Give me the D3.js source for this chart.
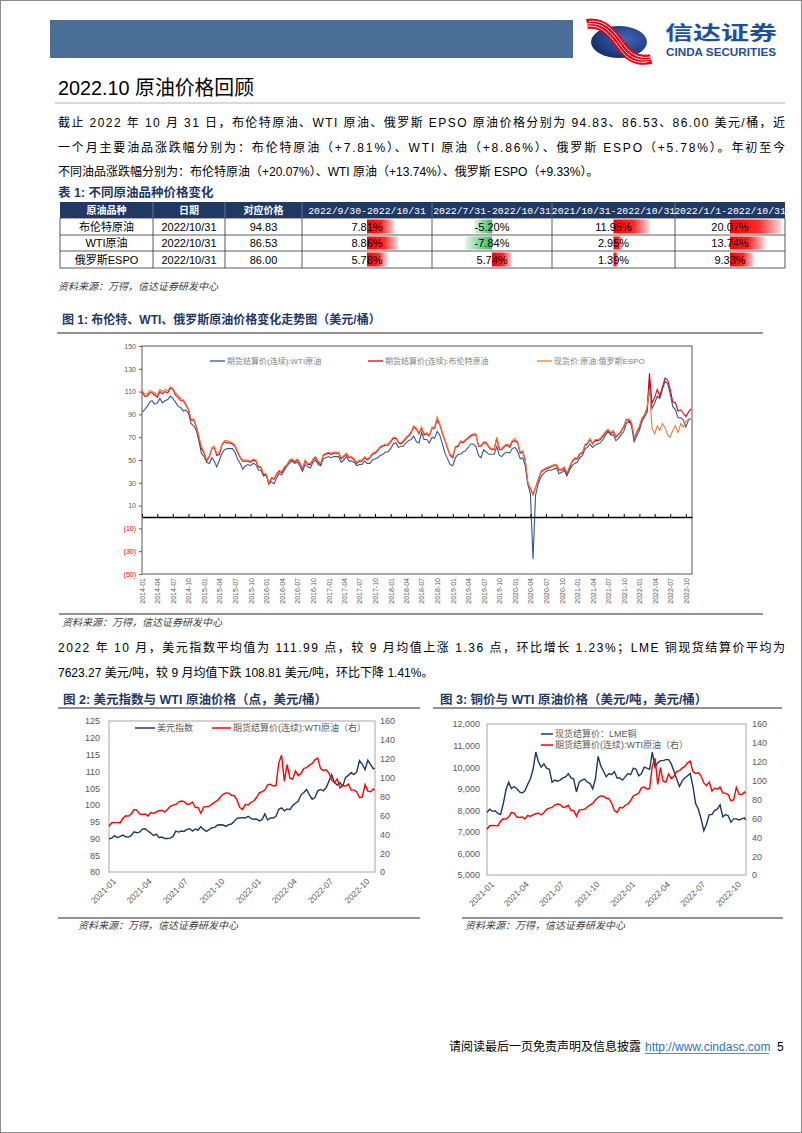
<!DOCTYPE html>
<html><head><meta charset="utf-8">
<script src="https://d3js.org/d3.v7.min.js"></script>
<style>
html,body{margin:0;padding:0;background:#fff;}
svg{display:block;}
</style></head>
<body>
<svg id="page" width="802" height="1133" xmlns="http://www.w3.org/2000/svg"></svg>
<script>
// ================= DATA =================
const tableHeaders = ["原油品种","日期","对应价格","2022/9/30-2022/10/31","2022/7/31-2022/10/31","2021/10/31-2022/10/31","2022/1/1-2022/10/31"];
const oilNames = ["布伦特原油","WTI原油","俄罗斯ESPO"];
const oilDates = ["2022/10/31","2022/10/31","2022/10/31"];
const oilPrices = ["94.83","86.53","86.00"];
const chg1m = [7.81, 8.86, 5.78];
const chg3m = [-5.20, -7.84, 5.74];
const chg1y = [11.95, 2.95, 1.39];
const chgYtd = [20.07, 13.74, 9.33];

// Chart 1: semi-monthly (1st & 16th) 2014-01 .. 2022-10, last point 2022-10-31
const wti1 = [
92,94,97,101,102,99,100,104,100,102,103,106,104,101,97,96,93,94,91,82,80,76,67,56,
53,48,47,52,49,44,50,56,59,60,60,60,57,51,47,42,45,46,45,47,46,41,41,36,
37,29,31,29,34,38,37,41,45,47,49,47,48,45,40,46,44,43,48,50,46,45,51,52,
53,52,53,53,53,48,50,53,49,49,48,45,46,46,49,47,47,50,51,52,54,55,57,57,
60,64,65,61,62,62,65,67,68,71,66,65,74,68,68,65,70,69,75,72,64,56,51,46,
45,52,55,55,57,58,61,64,64,62,54,52,59,57,55,55,55,62,54,53,56,57,56,60,
61,58,51,52,45,29,20,-37,19,29,35,38,40,41,41,42,43,38,39,41,36,41,45,47,
48,52,54,60,61,64,61,63,64,65,68,72,75,72,72,67,69,72,75,82,84,80,66,71,
76,84,88,92,120,95,100,106,104,112,119,117,108,97,94,87,87,85,79,85,
86.5];
const brent1 = [
110,106,106,109,109,107,105,110,108,110,109,113,112,107,105,102,102,98,94,85,85,79,70,60,
56,49,53,60,61,54,55,63,66,65,65,64,62,57,52,49,49,49,48,50,49,44,43,37,
37,29,34,33,37,40,39,43,45,49,50,48,50,47,42,49,46,46,50,52,48,46,54,55,
56,55,56,56,56,51,53,55,52,52,50,47,49,49,52,50,52,55,56,58,61,62,63,63,
66,69,69,65,64,66,69,71,74,79,77,73,78,72,73,71,78,78,85,81,73,67,60,54,
52,61,62,66,65,67,69,71,72,72,62,62,65,65,61,59,59,69,59,59,62,63,61,66,
67,65,56,57,50,30,25,20,26,32,39,41,42,43,44,45,45,41,41,43,38,43,48,51,
51,55,56,63,64,68,64,67,67,68,71,74,76,73,75,70,72,75,79,85,85,82,69,74,
79,86,89,96,126,100,105,112,106,114,122,120,112,101,100,93,94,91,88,92,
94.8];
const espo1 = [
111,108,108,111,110,109,107,112,110,112,111,114,113,109,107,104,103,99,95,86,86,80,71,62,
57,50,54,61,62,56,57,64,67,67,66,65,63,58,53,50,50,50,49,51,50,45,44,38,
38,30,35,34,38,41,40,44,46,50,51,49,51,48,43,50,47,47,51,53,49,47,55,56,
57,56,57,57,57,52,54,56,53,53,51,48,50,50,53,51,53,56,57,59,62,63,64,64,
67,70,70,66,65,67,70,72,75,80,78,74,79,73,74,72,79,79,88,82,74,68,61,55,
54,62,63,67,66,68,70,72,73,73,63,63,66,66,62,60,60,70,61,60,63,64,63,67,
69,66,57,58,51,31,24,19,26,33,40,42,43,44,45,46,46,42,42,44,39,44,49,52,
52,56,57,64,65,69,65,68,68,69,72,75,77,74,76,71,73,76,80,86,86,83,70,75,
80,87,90,97,112,78,73,80,76,82,78,72,70,76,80,74,82,79,84,86,
86];
const c1YTicks = [150,130,110,90,70,50,30,10,-10,-30,-50];
const c1Legend = ["期货结算价(连续):WTI原油","期货结算价(连续):布伦特原油","现货价:原油:俄罗斯ESPO"];

// Charts 2 & 3: weekly (Fridays from 2021-01-01), last point 2022-10-31
const dxy = [
89.9,90.1,90.8,90.2,90.6,91.0,90.5,90.4,90.9,92.0,91.7,91.9,92.8,92.9,92.2,91.6,90.9,91.3,90.2,90.4,90.0,90.0,90.1,90.6,92.2,91.9,92.2,92.1,92.7,92.9,92.2,92.8,92.5,93.5,92.7,92.1,92.6,93.2,93.3,94.0,94.1,94.0,93.6,94.1,94.3,95.1,96.0,96.1,96.2,96.1,96.6,96.0,95.7,
95.8,95.2,95.6,97.3,95.5,96.1,96.1,96.6,98.7,99.1,98.2,98.8,98.6,99.8,100.5,101.1,103.0,103.7,104.6,103.0,101.7,102.2,104.2,104.6,104.2,105.1,107.0,109.0,106.7,105.9,106.6,105.6,108.2,108.8,109.6,109.0,109.8,113.2,112.1,110.5,113.3,112.0,110.7,
111.0];
const wtiW = [
48.5,52.2,52.4,52.3,52.2,56.9,59.5,59.2,61.5,66.1,65.6,61.4,61.0,61.5,59.3,63.1,62.1,63.6,64.9,65.4,63.6,66.3,69.6,70.9,71.6,74.1,75.2,74.6,71.8,72.1,74.0,68.3,68.4,62.3,68.7,69.3,69.7,72.0,74.0,75.9,79.4,82.3,83.8,83.6,81.3,80.8,76.1,68.2,66.3,71.7,70.9,73.8,75.2,
78.9,83.8,85.1,86.8,92.3,93.1,91.1,91.6,115.7,123.7,96.0,113.9,99.3,98.3,107.0,102.1,104.7,109.8,110.5,113.2,115.1,118.9,120.7,109.6,107.6,108.4,104.8,97.6,94.7,98.6,89.0,92.1,90.8,93.1,86.9,86.8,85.1,78.7,79.5,92.6,85.6,85.1,87.9,
86.5];
const copper = [
7900,8050,7950,7980,7850,7800,8300,8950,9300,9000,9100,9000,8850,8800,8900,9200,9450,9900,10700,10250,10000,10150,9950,9900,9300,9400,9350,9400,9500,9550,9700,9500,9450,8850,9300,9400,9450,9300,9250,9000,9450,10500,10050,9800,9550,9700,9650,9800,9500,9500,9400,9550,9700,
9650,9950,9900,9600,9700,10000,9950,9900,10700,10000,10200,10300,10300,10350,10350,10150,9800,9450,9100,9350,9500,9600,9700,9100,8300,8050,7600,7050,7350,7800,7800,8000,8050,8250,7700,7800,7750,7450,7600,7600,7550,7600,7650,
7550];
const c2LeftTicks = [80,85,90,95,100,105,110,115,120,125];
const c3LeftTicks = [5000,6000,7000,8000,9000,10000,11000,12000];
const oilRightTicks = [0,20,40,60,80,100,120,140,160];
const c2Legend = ["美元指数","期货结算价(连续):WTI原油（右）"];
const c3Legend = ["现货结算价：LME铜","期货结算价(连续):WTI原油（右）"];

// ================= DRAW =================
const LAT = "'Liberation Sans', Arial, 'Noto Sans CJK SC', sans-serif";
const CJK = "'Noto Sans CJK SC', 'Liberation Sans', sans-serif";
const MONO = "'Liberation Mono', 'DejaVu Sans Mono', monospace";
const NAVY = "#1f3864";
const svg = d3.select("#page");
const defs = svg.append("defs");

function T(x, y, s, o = {}) {
  const t = svg.append("text").attr("x", x).attr("y", y).text(s)
    .attr("font-family", o.ff || LAT).attr("font-size", o.fs || 13)
    .attr("fill", o.fill || "#000");
  if (o.fw) t.attr("font-weight", o.fw);
  if (o.anchor) t.attr("text-anchor", o.anchor);
  if (o.italic) t.attr("font-style", "italic");
  if (o.len) t.attr("textLength", o.len).attr("lengthAdjust", o.adj || "spacing");
  return t;
}
function L(x1, y1, x2, y2, c, w) {
  return svg.append("line").attr("x1", x1).attr("y1", y1).attr("x2", x2).attr("y2", y2)
    .attr("stroke", c).attr("stroke-width", w);
}

// page border
svg.append("rect").attr("x",0.5).attr("y",0.5).attr("width",801).attr("height",1132)
  .attr("fill","none").attr("stroke","#8c8c8c");

// header
svg.append("rect").attr("x",50).attr("y",20).attr("width",523).attr("height",38).attr("fill","#4b6e96");
const rg = defs.append("radialGradient").attr("id","lgBlue").attr("cx","62%").attr("cy","40%").attr("r","70%");
rg.append("stop").attr("offset","0").attr("stop-color","#4066b5");
rg.append("stop").attr("offset","1").attr("stop-color","#13296a");
svg.append("ellipse").attr("cx",619).attr("cy",42).attr("rx",28).attr("ry",16).attr("fill","url(#lgBlue)");
const rib = "M587,24 C604,21 614,36 622,47 C629,57 638,62 651,59";
svg.append("path").attr("d",rib).attr("fill","none").attr("stroke","#e60012").attr("stroke-width",10);
[-2.4, 0, 2.4].forEach(o => svg.append("path").attr("d",rib).attr("transform",`translate(${o*0.7},${-o})`)
  .attr("fill","none").attr("stroke","#fff").attr("stroke-width",0.9));
T(665, 40, "信达证券", {ff:CJK, fs:19, fw:"bold", fill:"#1d4f9f", len:112, adj:"spacingAndGlyphs"});
T(666, 55.5, "CINDA SECURITIES", {fs:10, fw:"bold", fill:"#1d4f9f", len:110, adj:"spacingAndGlyphs"});

// section title
T(58, 95, "2022.10 原油价格回顾", {fs:20, len:196, adj:"spacingAndGlyphs"});
L(55, 103, 785, 103, "#a9b6c9", 1.2);

// paragraph 1
T(58, 127, "截止 2022 年 10 月 31 日，布伦特原油、WTI 原油、俄罗斯 EPSO 原油价格分别为 94.83、86.53、86.00 美元/桶，近", {fs:12, len:727});
T(58, 152, "一个月主要油品涨跌幅分别为：布伦特原油（+7.81%）、WTI 原油（+8.86%）、俄罗斯 ESPO（+5.78%）。年初至今", {fs:12, len:727});
T(58, 176, "不同油品涨跌幅分别为：布伦特原油（+20.07%）、WTI 原油（+13.74%）、俄罗斯 ESPO（+9.33%）。", {fs:12});

// table title
T(58, 197, "表 1: 不同原油品种价格变化", {fs:12.5, fw:"bold", fill:NAVY});

// ---- Table ----
const colX = [60,153,225,302,432,552,675,785];
const rowY = [202,218,235,251,268];
svg.append("rect").attr("x",colX[0]).attr("y",rowY[0]).attr("width",colX[7]-colX[0]).attr("height",rowY[1]-rowY[0]).attr("fill",NAVY);
tableHeaders.forEach((h,i) => {
  const cx = (colX[i]+colX[i+1])/2;
  T(cx, rowY[0]+11.5, h, {ff: i<3 ? CJK : MONO, fs: i<3 ? 10 : 9.8, fw: i<3 ? "bold":"normal", fill:"#fff", anchor:"middle"});
});
const gR = defs.append("linearGradient").attr("id","gRed").attr("x1","0").attr("x2","1").attr("y1","0").attr("y2","0");
gR.append("stop").attr("offset","0").attr("stop-color","#ff0000");
gR.append("stop").attr("offset","0.55").attr("stop-color","#ff2a2a");
gR.append("stop").attr("offset","1").attr("stop-color","#ffdada");
const gG = defs.append("linearGradient").attr("id","gGreen").attr("x1","0").attr("x2","1").attr("y1","0").attr("y2","0");
gG.append("stop").attr("offset","0").attr("stop-color","#e6f6ea");
gG.append("stop").attr("offset","0.5").attr("stop-color","#8ad6a0");
gG.append("stop").attr("offset","1").attr("stop-color","#3cb862");

const chgCols = [chg1m, chg3m, chg1y, chgYtd];
const barMaxPx = [31, 27, 36, 51];
oilNames.forEach((n,r) => {
  const y0 = rowY[r+1], y1 = rowY[r+2], cy = (y0+y1)/2;
  const base = [n, oilDates[r], oilPrices[r]];
  base.forEach((s,i) => T((colX[i]+colX[i+1])/2, cy+4, s, {fs:11, anchor:"middle"}));
  chgCols.forEach((col,k) => {
    const ci = k+3;
    const ax = (colX[ci]+colX[ci+1])/2;
    const mx = d3.max(col, v => Math.abs(v));
    const s = d3.scaleLinear().domain([0, mx]).range([0, barMaxPx[k]]);
    const v = col[r];
    const w = s(Math.abs(v));
    svg.append("rect").attr("x", v>=0 ? ax : ax-w).attr("y", y0+1.5).attr("width", w).attr("height", y1-y0-3)
      .attr("fill", v>=0 ? "url(#gRed)" : "url(#gGreen)");
    T(ax, cy+4, v.toFixed(2)+"%", {fs:11, anchor:"middle"});
  });
});
rowY.slice(1).forEach(y => L(colX[0], y, colX[7], y, "#333", 0.8));
colX.forEach(x => L(x, rowY[1], x, rowY[4], "#333", 0.8));
colX.slice(1,7).forEach(x => L(x, rowY[0], x, rowY[1], "#8a9bbd", 0.6));

T(58, 290, "资料来源：万得，信达证券研发中心", {ff:CJK, fs:10, italic:true, fill:"#404040"});

// ---- Chart 1 ----
T(62, 324, "图 1: 布伦特、WTI、俄罗斯原油价格变化走势图（美元/桶）", {fs:12, fw:"bold", fill:NAVY});
L(57, 333, 763, 333, "#262626", 1);
{
  const c = {l:142, r:692, t:346, b:574};
  const x = d3.scaleTime().domain([new Date(2014,0,1), new Date(2022,10,6)]).range([c.l, c.r]);
  const y = d3.scaleLinear().domain([-50,150]).range([c.b, c.t]);
  const g = svg.append("g");
  g.append("rect").attr("x",c.l).attr("y",c.t).attr("width",c.r-c.l).attr("height",c.b-c.t)
    .attr("fill","none").attr("stroke","#595959").attr("stroke-width",1);
  const dates = wti1.map((v,i) => i < wti1.length-1 ? new Date(2014, Math.floor(i/2), i%2 ? 16 : 1) : new Date(2022,9,31));
  g.append("g").attr("transform",`translate(${c.l},0)`)
    .call(d3.axisLeft(y).tickValues(c1YTicks).tickSize(3).tickSizeOuter(0).tickFormat(d => d<0 ? `(${-d})` : d))
    .call(a => { a.select(".domain").remove();
      a.selectAll("line").attr("stroke","#595959");
      a.selectAll("text").attr("fill", d => d<0 ? "#ff0000" : "#595959").attr("font-size",7).attr("font-family",LAT); });
  const q = d3.timeMonth.every(3).range(new Date(2014,0,1), new Date(2022,10,1));
  const fmt = d3.timeFormat("%Y-%m");
  g.append("g").attr("transform",`translate(0,${c.b})`)
    .call(d3.axisBottom(x).tickValues(q).tickSize(0).tickFormat(fmt))
    .call(a => { a.select(".domain").remove();
      a.selectAll("text").attr("transform","rotate(-90)").attr("x",-4).attr("y",0).attr("dy","0.35em")
        .style("text-anchor","end").attr("font-size",7).attr("font-family",LAT).attr("fill","#595959"); });
  const line = vals => d3.line().x((d,i) => x(dates[i])).y(d => y(d))(vals);
  g.append("path").attr("d", line(wti1)).attr("fill","none").attr("stroke","#35578f").attr("stroke-width",1.1);
  g.append("path").attr("d", line(brent1)).attr("fill","none").attr("stroke","#e2001a").attr("stroke-width",1.1);
  g.append("path").attr("d", line(espo1)).attr("fill","none").attr("stroke","#f07a3a").attr("stroke-width",1.1);
  g.append("g").attr("transform",`translate(0,${y(0)})`)
    .call(d3.axisBottom(x).tickValues(q).tickSize(-3).tickSizeOuter(0).tickFormat(""))
    .call(a => { a.select(".domain").attr("stroke","#000").attr("stroke-width",1.3);
      a.selectAll("line").attr("stroke","#000"); });
  const legX = [210, 368, 537], legC = ["#35578f","#e2001a","#f07a3a"];
  c1Legend.forEach((s,i) => {
    g.append("line").attr("x1",legX[i]).attr("x2",legX[i]+15).attr("y1",361).attr("y2",361).attr("stroke",legC[i]).attr("stroke-width",1.3);
    g.append("text").attr("x",legX[i]+17).attr("y",364).text(s).attr("font-size",8).attr("font-family",LAT).attr("fill","#7f7f7f");
  });
}
L(59, 614, 763, 614, "#262626", 1);
T(62, 626, "资料来源：万得，信达证券研发中心", {ff:CJK, fs:10, italic:true, fill:"#404040"});

// paragraph 2
T(58, 652, "2022 年 10 月，美元指数平均值为 111.99 点，较 9 月均值上涨 1.36 点，环比增长 1.23%；LME 铜现货结算价平均为", {fs:12, len:727});
T(58, 677, "7623.27 美元/吨，较 9 月均值下跌 108.81 美元/吨，环比下降 1.41%。", {fs:12});

// ---- Charts 2 & 3 ----
const wDates = dxy.map((v,i) => i < dxy.length-1 ? new Date(2021,0,1+7*i) : new Date(2022,9,31));
function dual(o) {
  const g = svg.append("g");
  const x = d3.scaleTime().domain([new Date(2021,0,1), new Date(2022,10,1)]).range([o.l, o.r]);
  const yL = d3.scaleLinear().domain(o.lDom).range([o.b, o.t]);
  const yR = d3.scaleLinear().domain([0,160]).range([o.b, o.t]);
  g.append("rect").attr("x",o.l).attr("y",o.t).attr("width",o.r-o.l).attr("height",o.b-o.t)
    .attr("fill","none").attr("stroke","#a6a6a6").attr("stroke-width",1);
  const sty = a => { a.select(".domain").remove();
    a.selectAll("text").attr("fill","#595959").attr("font-size",9).attr("font-family",LAT); };
  g.append("g").attr("transform",`translate(${o.l},0)`)
    .call(d3.axisLeft(yL).tickValues(o.lTicks).tickSize(0).tickPadding(o.lPad).tickFormat(o.lFmt)).call(sty);
  g.append("g").attr("transform",`translate(${o.r},0)`)
    .call(d3.axisRight(yR).tickValues(oilRightTicks).tickSize(0).tickPadding(o.rPad)).call(sty);
  const q = d3.timeMonth.every(3).range(new Date(2021,0,1), new Date(2022,10,1));
  g.append("g").attr("transform",`translate(0,${o.b})`)
    .call(d3.axisBottom(x).tickValues(q).tickSize(0).tickFormat(d3.timeFormat("%Y-%m")))
    .call(sty)
    .call(a => a.selectAll("text").attr("x",0).attr("y",0).attr("dy",0)
      .attr("transform","translate(7,10) rotate(-45)").style("text-anchor","end").attr("font-size",8.5));
  const mk = (vals, ys) => d3.line().x((d,i) => x(wDates[i])).y(d => ys(d))(vals);
  g.append("path").attr("d", mk(o.lVals, yL)).attr("fill","none").attr("stroke","#1f3864").attr("stroke-width",1.4);
  g.append("path").attr("d", mk(wtiW, yR)).attr("fill","none").attr("stroke","#ff0000").attr("stroke-width",1.4);
  const cols = ["#1f3864","#ff0000"];
  o.legend.forEach((s,i) => {
    const p = o.legPos[i];
    g.append("line").attr("x1",p[0]).attr("x2",p[0]+p[2]).attr("y1",p[1]).attr("y2",p[1]).attr("stroke",cols[i]).attr("stroke-width",1.5);
    g.append("text").attr("x",p[0]+p[2]+2).attr("y",p[1]+3).text(s).attr("font-size",9).attr("font-family",LAT).attr("fill","#595959");
  });
}
T(63, 704, "图 2: 美元指数与 WTI 原油价格（点，美元/桶）", {fs:12.5, fw:"bold", fill:NAVY});
L(58, 708, 420, 708, "#262626", 1);
T(440, 704, "图 3: 铜价与 WTI 原油价格（美元/吨，美元/桶）", {fs:12.5, fw:"bold", fill:NAVY});
L(433, 708, 782, 708, "#262626", 1);

dual({l:109, r:375, t:721, b:872, lDom:[80,125], lTicks:c2LeftTicks, lFmt:d3.format("d"), lPad:9, rPad:5,
  lVals:dxy, legend:c2Legend, legPos:[[135,728,20],[212,728,19]]});
dual({l:487, r:746, t:724, b:875, lDom:[5000,12000], lTicks:c3LeftTicks, lFmt:d3.format(","), lPad:7, rPad:6,
  lVals:copper, legend:c3Legend, legPos:[[541,734,12],[541,745,12]]});

L(58, 918, 420, 918, "#262626", 1);
L(462, 918, 783, 918, "#262626", 1);
T(78, 929, "资料来源：万得，信达证券研发中心", {ff:CJK, fs:10, italic:true, fill:"#404040"});
T(465, 929, "资料来源：万得，信达证券研发中心", {ff:CJK, fs:10, italic:true, fill:"#404040"});

// footer
T(449, 1051, "请阅读最后一页免责声明及信息披露", {ff:CJK, fs:12, fill:"#000"});
T(645, 1051, "http://www.cindasc.com", {fs:12, fill:"#2e74b5"});
L(645, 1053.5, 769, 1053.5, "#2e74b5", 0.8);
T(777, 1051, "5", {fs:12});
</script></body></html>
